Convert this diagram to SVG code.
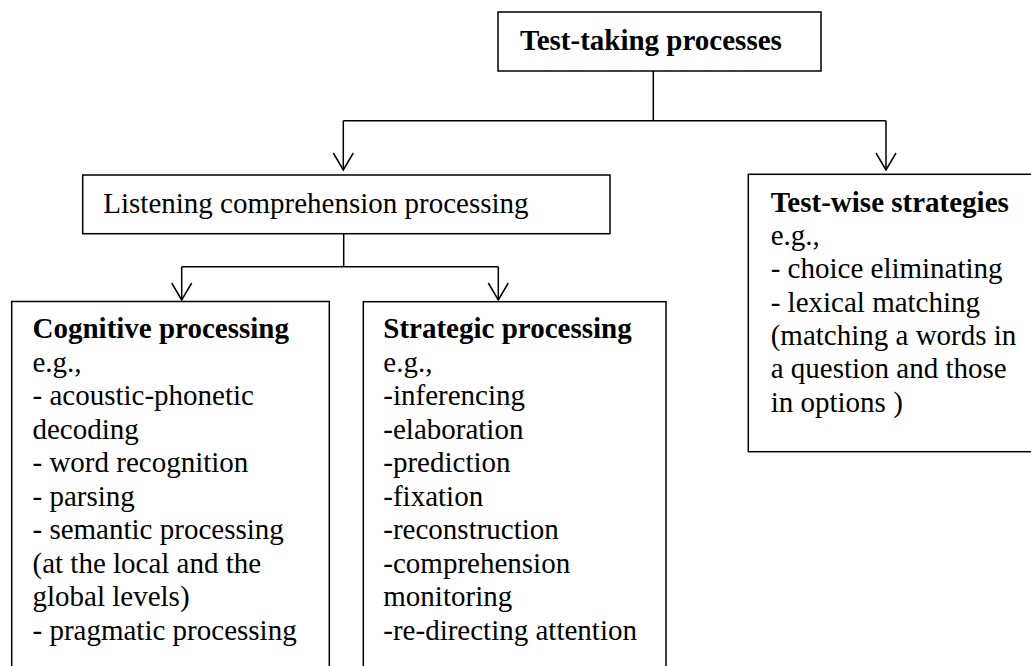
<svg xmlns="http://www.w3.org/2000/svg" width="1031" height="666" viewBox="0 0 1031 666">
<style>
.box{fill:#fff;stroke:#000;stroke-width:1.5}
.c{fill:none;stroke:#000;stroke-width:1.5}
</style>
<defs>
<marker id="arr" markerUnits="userSpaceOnUse" markerWidth="22" markerHeight="26" viewBox="-20 -13 22 26" refX="0" refY="0" orient="auto" overflow="visible">
<path d="M-17,-10 L0,0 L-17,10" fill="none" stroke="#000" stroke-width="1.5"/>
</marker>
</defs>
<rect width="1031" height="666" fill="#fff"/>
<g id="connectors">
<path class="c" d="M653.3,71 V120.7"/>
<path class="c" d="M343.3,120.7 H886"/>
<path class="c" d="M343.3,120.7 V170" marker-end="url(#arr)"/>
<path class="c" d="M886,120.7 V170" marker-end="url(#arr)"/>
<path class="c" d="M343.7,233.7 V266.7"/>
<path class="c" d="M181.7,266.7 H498.3"/>
<path class="c" d="M181.7,266.7 V300" marker-end="url(#arr)"/>
<path class="c" d="M498.3,266.7 V300" marker-end="url(#arr)"/>
</g>
<g font-family="Liberation Serif, serif" font-size="29" fill="#000">
<g id="node-test-taking">
<rect class="box" x="498" y="12" width="323" height="59"/>
<text x="520" y="50" font-weight="bold">Test-taking processes</text>
</g>
<g id="node-listening">
<rect class="box" x="82.7" y="175" width="527.3" height="58.7"/>
<text x="103.3" y="213.3">Listening comprehension processing</text>
</g>
<g id="node-testwise">
<rect class="box" x="748.3" y="174.3" width="290" height="277.4"/>
<text x="770.7" y="211.7"><tspan font-weight="bold">Test-wise strategies</tspan><tspan x="770.7" dy="33.3">e.g.,</tspan><tspan x="770.7" dy="33.3">- choice eliminating</tspan><tspan x="770.7" dy="33.3">- lexical matching</tspan><tspan x="770.7" dy="33.3">(matching a words in</tspan><tspan x="770.7" dy="33.3">a question and those</tspan><tspan x="770.7" dy="33.3">in options )</tspan></text>
</g>
<g id="node-cognitive">
<rect class="box" x="11.7" y="301.5" width="317.6" height="380"/>
<text x="32.5" y="338.3"><tspan font-weight="bold">Cognitive processing</tspan><tspan x="32.5" dy="33.5">e.g.,</tspan><tspan x="32.5" dy="33.5">- acoustic-phonetic</tspan><tspan x="32.5" dy="33.5">decoding</tspan><tspan x="32.5" dy="33.5">- word recognition</tspan><tspan x="32.5" dy="33.5">- parsing</tspan><tspan x="32.5" dy="33.5">- semantic processing</tspan><tspan x="32.5" dy="33.5">(at the local and the</tspan><tspan x="32.5" dy="33.5">global levels)</tspan><tspan x="32.5" dy="33.5">- pragmatic processing</tspan></text>
</g>
<g id="node-strategic">
<rect class="box" x="363.3" y="301.7" width="302.7" height="380"/>
<text x="383.3" y="338.3"><tspan font-weight="bold">Strategic processing</tspan><tspan x="383.3" dy="33.5">e.g.,</tspan><tspan x="383.3" dy="33.5">-inferencing</tspan><tspan x="383.3" dy="33.5">-elaboration</tspan><tspan x="383.3" dy="33.5">-prediction</tspan><tspan x="383.3" dy="33.5">-fixation</tspan><tspan x="383.3" dy="33.5">-reconstruction</tspan><tspan x="383.3" dy="33.5">-comprehension</tspan><tspan x="383.3" dy="33.5">monitoring</tspan><tspan x="383.3" dy="33.5">-re-directing attention</tspan></text>
</g>
</g>
</svg>
